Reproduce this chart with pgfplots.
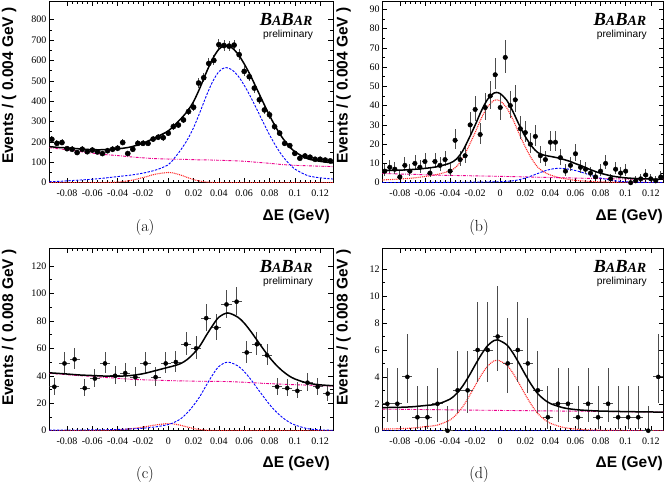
\documentclass[border=0pt]{standalone}
\usepackage{fontspec}
\usepackage{pgfplots}
\usepackage{pgfplotstable}
\pgfplotsset{compat=1.18}
\newfontfamily\timesf{Liberation Serif}
\newfontfamily\helvf{Liberation Sans}

% ---------- data (a) ----------
\pgfplotstableread{
x y
-0.092 213
-0.088 193
-0.084 197
-0.080 167
-0.076 164
-0.072 148
-0.068 164
-0.064 152
-0.060 160
-0.056 151
-0.052 143
-0.048 157
-0.044 164
-0.040 169
-0.036 197
-0.032 143
-0.028 164
-0.024 193
-0.020 193
-0.016 193
-0.012 214
-0.008 223
-0.004 221
0.000 243
0.004 275
0.008 283
0.012 308
0.016 349
0.020 370
0.024 489
0.028 515
0.032 585
0.036 600
0.040 677
0.044 673
0.048 670
0.052 675
0.056 628
0.060 546
0.064 520
0.068 464
0.072 407
0.076 357
0.080 333
0.084 275
0.088 243
0.092 193
0.096 182
0.100 144
0.104 120
0.108 131
0.112 125
0.116 115
0.120 115
0.124 111
0.128 107
}\dataa
\pgfplotstableread{
x tot sig pkr bkg
-0.094 177 5 0 172
-0.085 172 7 0 165
-0.08 171 9 0 162
-0.07 166 13 0 153
-0.06 162 17 0.1 145
-0.05 162 23 0.7 138
-0.04 166 30 3 133
-0.03 175 37 10.5 127
-0.02 194 47 25 122
-0.01 222 62 42 118
0 254 88 50 116
0.005 283 122 46 115
0.01 314 162 37 115
0.015 350 210 26 114
0.02 398 270 15 113
0.025 465 345 8 112
0.03 540 425 3.5 112
0.035 607 495 1 111
0.04 655 545 0.4 110
0.045 674 565 0 109
0.05 663 555 0 108
0.055 632 525 0 107
0.06 583 478 0 105
0.065 525 422 0 103
0.07 460 360 0 100
0.075 394 296 0 98
0.08 330 235 0 95
0.085 272 180 0 92
0.09 222 133 0 89
0.095 183 96 0 87
0.1 152 67 0 85
0.11 118 35 0 83
0.12 105 24 0 81
0.13 97 18 0 79
}\curva

% ---------- data (b) ----------
\pgfplotstableread{
x y
-0.092 6
-0.088 8
-0.084 7
-0.080 3
-0.076 9
-0.072 6
-0.068 10
-0.064 8
-0.060 11
-0.056 5
-0.052 11
-0.048 9
-0.044 12
-0.040 6
-0.036 22
-0.032 12
-0.028 14
-0.024 30
-0.020 38
-0.016 25
-0.012 39
-0.008 45
-0.004 56
0.000 39
0.004 65
0.008 40
0.012 43
0.016 28
0.020 26
0.024 20
0.028 24
0.032 14
0.036 12
0.040 21
0.044 21
0.048 13
0.052 6
0.056 9
0.060 15
0.064 8
0.068 7
0.072 5
0.076 3
0.080 6
0.084 10
0.088 2
0.092 7
0.096 5
0.100 6
0.104 0
0.108 1
0.112 2
0.116 4
0.120 2
0.124 1
0.128 3
}\datab
\pgfplotstableread{
x tot sig pkr bkg
-0.094 6.3 0.1 1.4 4.8
-0.08 6.51 0.11 1.9 4.5
-0.07 6.86 0.11 2.4 4.35
-0.06 7.42 0.12 3.2 4.1
-0.05 8.35 0.15 4.3 3.9
-0.04 10.16 0.18 6.2 3.78
-0.035 12.22 0.2 8.3 3.72
-0.03 16.38 0.22 12.5 3.66
-0.025 22.86 0.26 19 3.6
-0.02 29.84 0.3 26 3.54
-0.015 37.31 0.33 33.5 3.48
-0.01 43.32 0.4 39.5 3.42
-0.005 46.51 0.45 42.7 3.36
-0.003 46.81 0.47 43 3.34
0 46.2 0.5 42.4 3.3
0.005 42.93 0.7 39 3.23
0.01 37.1 0.95 33 3.15
0.015 30.13 1.55 25.5 3.08
0.02 23.9 2.4 18.5 3.0
0.025 18.98 3.55 12.5 2.93
0.03 15.65 4.8 8 2.85
0.035 14.28 6 5.5 2.78
0.04 13.65 6.95 4 2.7
0.047 12.7 7.5 2.6 2.6
0.055 11.18 7.0 1.7 2.48
0.06 9.9 6.3 1.2 2.4
0.065 8.68 5.4 0.95 2.33
0.07 7.25 4.3 0.7 2.25
0.075 6.03 3.3 0.55 2.18
0.08 4.9 2.4 0.4 2.1
0.09 3.35 1.1 0.25 2.0
0.1 2.5 0.45 0.15 1.9
0.11 2.13 0.2 0.1 1.83
0.12 1.94 0.1 0.07 1.77
0.13 1.8 0.05 0.05 1.7
}\curvb

% ---------- data (c) ----------
\pgfplotstableread{
x y
-0.090 32
-0.082 49
-0.074 52
-0.066 31
-0.058 38
-0.050 49
-0.042 40
-0.034 42
-0.026 39
-0.018 49
-0.010 39
-0.002 49
0.006 50
0.014 63
0.022 60
0.030 82
0.038 75
0.046 92
0.054 94
0.062 57
0.070 63
0.078 55
0.086 32
0.094 31
0.102 29
0.110 35
0.118 32
0.126 27
}\datac
\pgfplotstableread{
x tot sig pkr bkg
-0.094 42.2 0.4 0 41.8
-0.08 41.3 0.5 0 40.8
-0.07 40.6 0.5 0 40.1
-0.06 40.2 0.6 0.1 39.5
-0.05 39.8 0.7 0.3 38.8
-0.04 39.7 0.9 0.6 38.2
-0.03 40.2 1.3 1.4 37.5
-0.02 41.5 1.8 2.6 37.1
-0.01 43.8 2.8 4.2 36.8
0 46.2 4.5 5.2 36.5
0.005 47.4 6.2 4.8 36.4
0.01 49.0 8.8 3.9 36.3
0.015 51.9 13 2.7 36.2
0.02 56.2 18.5 1.6 36.1
0.025 61.8 25 0.8 36.0
0.03 69.4 33 0.36 36.0
0.035 76.6 40.6 0.1 35.9
0.04 82.7 46.8 0 35.9
0.047 85.8 50 0 35.8
0.055 82.7 47.2 0 35.5
0.06 78.4 43.1 0 35.3
0.065 72.6 37.6 0 35.0
0.07 66.1 31.3 0 34.8
0.075 59.6 25.1 0 34.5
0.08 53.4 19.1 0 34.3
0.085 48.1 14 0 34.1
0.09 43.7 9.8 0 33.9
0.095 40.2 6.5 0 33.7
0.1 37.7 4.2 0 33.5
0.11 34.7 1.5 0 33.2
0.12 33.4 0.6 0 32.8
0.13 32.8 0.3 0 32.5
}\curvc

% ---------- data (d) ----------
\pgfplotstableread{
x y
-0.090 2
-0.082 2
-0.074 4
-0.066 1
-0.058 1
-0.050 2
-0.042 0
-0.034 3
-0.026 3
-0.018 6
-0.010 6
-0.002 7
0.006 5
0.014 6
0.022 5
0.030 3
0.038 1
0.046 2
0.054 2
0.062 1
0.070 2
0.078 1
0.086 2
0.094 1
0.102 1
0.110 1
0.118 0
0.126 4
}\datad
\pgfplotstableread{
x tot sig pkr bkg
-0.094 1.72 0 0.12 1.60
-0.08 1.74 0 0.15 1.59
-0.07 1.78 0 0.2 1.58
-0.06 1.87 0 0.3 1.57
-0.05 1.98 0 0.42 1.56
-0.04 2.35 0 0.8 1.55
-0.035 2.74 0 1.2 1.54
-0.03 3.31 0 1.77 1.54
-0.025 4.05 0 2.52 1.53
-0.02 4.88 0 3.35 1.53
-0.015 5.67 0 4.15 1.52
-0.01 6.33 0 4.81 1.52
-0.005 6.70 0 5.19 1.51
-0.002 6.76 0 5.25 1.51
0.005 6.40 0 4.9 1.50
0.01 5.80 0 4.3 1.50
0.015 5.01 0 3.52 1.49
0.02 4.17 0 2.68 1.49
0.025 3.39 0 1.91 1.48
0.03 2.75 0 1.27 1.48
0.035 2.32 0 0.85 1.47
0.04 2.02 0 0.55 1.47
0.05 1.71 0 0.25 1.46
0.06 1.57 0 0.12 1.45
0.07 1.50 0 0.06 1.44
0.08 1.46 0 0.03 1.43
0.1 1.42 0 0.01 1.41
0.13 1.38 0 0 1.38
}\curvd

\pgfplotsset{
  babar/.style={
    scale only axis, width=283.5pt,
    xmin=-0.094, xmax=0.13, ymin=0,
    xtick={-0.08,-0.06,-0.04,-0.02,0,0.02,0.04,0.06,0.08,0.1,0.12},
    xticklabels={-0.08,-0.06,-0.04,-0.02,0,0.02,0.04,0.06,0.08,0.1,0.12},
    minor x tick num=4, minor y tick num=1,
    major tick length=4.5pt, minor tick length=2.5pt,
    tick style={line width=0.5pt, black},
    axis line style={line width=0.6pt},
    scaled y ticks=false,
    /pgf/number format/assume math mode=true,
    xticklabel style={anchor=base, yshift=-13.6pt, inner sep=0pt, font=\timesf\fontsize{10}{10}\selectfont},
    yticklabel style={anchor=east, xshift=-2.6pt, inner sep=0pt, font=\timesf\fontsize{10}{10}\selectfont},
  },
  pts/.style={only marks, mark=*, black, mark options={draw=black, fill=black},
    error bars/x dir=both, error bars/x explicit, error bars/y dir=both, error bars/y explicit,
    error bars/error mark=none,
    error bars/error bar style={line width=0.8pt, black!70}},
  totc/.style={black, line width=1.5pt, smooth, no marks},
  sigc/.style={blue, line width=0.9pt, dash pattern=on 2.4pt off 1.4pt, smooth, no marks},
  pkrc/.style={red!85, line width=1.1pt, dash pattern=on 1pt off 0.9pt, smooth, no marks},
  bkgc/.style={magenta, line width=0.9pt, dash pattern=on 3pt off 1.2pt on 0.8pt off 1.2pt, smooth, no marks},
}
\newcommand{\labfont}{\helvf\bfseries\fontsize{15.5}{16}\selectfont}
\newcommand{\babar}{{\timesf\bfseries\itshape{\fontsize{18.5}{18.5}\selectfont B}{\fontsize{14}{14}\selectfont A}{\fontsize{18.5}{18.5}\selectfont B}{\fontsize{14}{14}\selectfont AR}}}
\newcommand{\prelim}{{\helvf\fontsize{10.2}{10.2}\selectfont preliminary}}

\begin{document}
\begin{tikzpicture}
\useasboundingbox (0,0) rectangle (665pt,483pt);

% (a)
\begin{axis}[babar, at={(49.3pt,300.3pt)}, anchor=south west, height=181pt, ymax=888,
  ytick={0,100,...,800}]
\addplot[pkrc] table[x=x,y=pkr] {\curva};
\addplot[bkgc] table[x=x,y=bkg] {\curva};
\addplot[sigc] table[x=x,y=sig] {\curva};
\addplot[pts, mark size=2.6pt] table[x=x, y=y, x error expr={0.002},
  y error plus expr={sqrt(\thisrow{y}+0.75)+1}, y error minus expr={sqrt(max(\thisrow{y}-0.25,0))}] {\dataa};
\addplot[totc] table[x=x,y=tot] {\curva};
\end{axis}

% (b)
\begin{axis}[babar, width=281pt, at={(382.3pt,300.3pt)}, anchor=south west, height=181pt, ymax=93.9,
  ytick={0,10,...,90}]
\addplot[pkrc] table[x=x,y=pkr] {\curvb};
\addplot[bkgc] table[x=x,y=bkg] {\curvb};
\addplot[sigc] table[x=x,y=sig] {\curvb};
\addplot[pts, mark size=2.3pt] table[x=x, y=y, x error expr={0.002},
  y error plus expr={sqrt(\thisrow{y}+0.75)+1}, y error minus expr={sqrt(max(\thisrow{y}-0.25,0))}] {\datab};
\addplot[totc] table[x=x,y=tot] {\curvb};
\end{axis}

% (c)
\begin{axis}[babar, at={(49.3pt,52.3pt)}, anchor=south west, height=182.4pt, ymax=132.9,
  ytick={0,20,...,120}]
\addplot[pkrc] table[x=x,y=pkr] {\curvc};
\addplot[bkgc] table[x=x,y=bkg] {\curvc};
\addplot[sigc] table[x=x,y=sig] {\curvc};
\addplot[pts, mark size=2.1pt] table[x=x, y=y, x error expr={0.004},
  y error plus expr={sqrt(\thisrow{y}+0.75)+1}, y error minus expr={sqrt(max(\thisrow{y}-0.25,0))}] {\datac};
\addplot[totc] table[x=x,y=tot] {\curvc};
\end{axis}

% (d)
\begin{axis}[babar, width=281pt, at={(382.3pt,52.3pt)}, anchor=south west, height=182.4pt, ymax=13.56,
  ytick={0,2,...,12}]
\addplot[sigc, blue!60!black] table[x=x,y=sig] {\curvd};
\addplot[pkrc] table[x=x,y=pkr] {\curvd};
\addplot[bkgc] table[x=x,y=bkg] {\curvd};
\addplot[pts, mark size=2.1pt] table[x=x, y=y, x error expr={0.004},
  y error plus expr={sqrt(\thisrow{y}+0.75)+1}, y error minus expr={sqrt(max(\thisrow{y}-0.25,0))}] {\datad};
\addplot[totc] table[x=x,y=tot] {\curvd};
\end{axis}

% axis titles
\node[rotate=90, anchor=east, inner sep=0pt, font=\labfont] at (9pt,476pt) {Events / ( 0.004 GeV )};
\node[rotate=90, anchor=east, inner sep=0pt, font=\labfont] at (343.5pt,476pt) {Events / ( 0.004 GeV )};
\node[rotate=90, anchor=east, inner sep=0pt, font=\labfont] at (9pt,234pt) {Events / ( 0.008 GeV )};
\node[rotate=90, anchor=east, inner sep=0pt, font=\labfont] at (343.5pt,234pt) {Events / ( 0.008 GeV )};
\node[anchor=base east, inner sep=0pt, font=\labfont] at (330pt,262.3pt) {ΔE (GeV)};
\node[anchor=base east, inner sep=0pt, font=\labfont] at (663pt,262.3pt) {ΔE (GeV)};
\node[anchor=base east, inner sep=0pt, font=\labfont] at (330pt,15.3pt) {ΔE (GeV)};
\node[anchor=base east, inner sep=0pt, font=\labfont] at (663pt,15.3pt) {ΔE (GeV)};

% BaBar logos
\node[anchor=base east, inner sep=0pt] at (312.7pt,457pt) {\babar};
\node[anchor=base east, inner sep=0pt] at (313.3pt,445pt) {\prelim};
\node[anchor=base east, inner sep=0pt] at (646.5pt,457pt) {\babar};
\node[anchor=base east, inner sep=0pt] at (647pt,445pt) {\prelim};
\node[anchor=base east, inner sep=0pt] at (312.7pt,211pt) {\babar};
\node[anchor=base east, inner sep=0pt] at (313.3pt,199pt) {\prelim};
\node[anchor=base east, inner sep=0pt] at (646.5pt,211pt) {\babar};
\node[anchor=base east, inner sep=0pt] at (647pt,199pt) {\prelim};

% captions
\node[anchor=base, inner sep=0pt, font=\fontsize{16}{16}\selectfont] at (145pt,251.7pt) {(a)};
\node[anchor=base, inner sep=0pt, font=\fontsize{16}{16}\selectfont] at (479pt,251.7pt) {(b)};
\node[anchor=base, inner sep=0pt, font=\fontsize{16}{16}\selectfont] at (145pt,5pt) {(c)};
\node[anchor=base, inner sep=0pt, font=\fontsize{16}{16}\selectfont] at (479pt,5pt) {(d)};
\end{tikzpicture}
\end{document}
